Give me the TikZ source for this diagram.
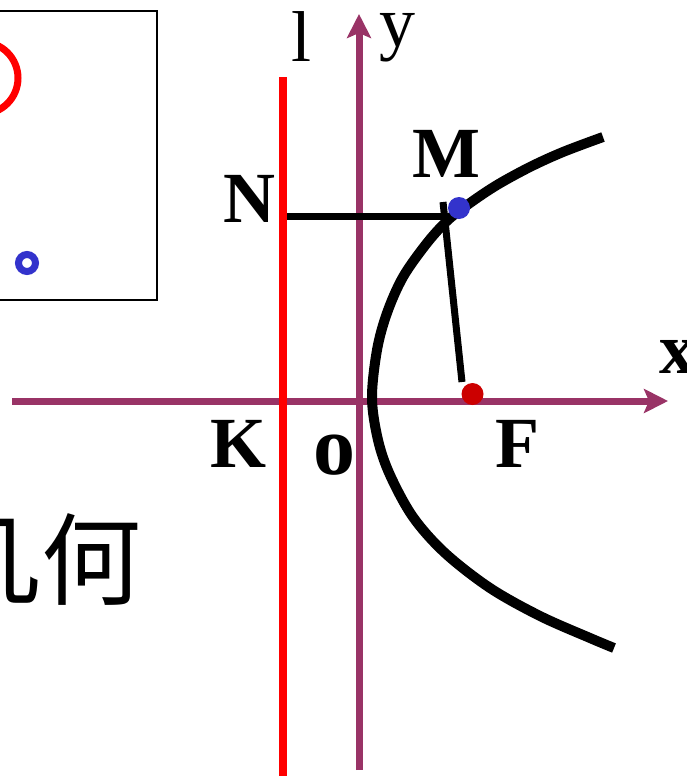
\documentclass[tikz,border=0pt]{standalone}
\usepackage{fontspec}
\setmainfont{Liberation Serif}
\newfontfamily\cjk{Noto Sans CJK SC}
\usetikzlibrary{arrows.meta}

\definecolor{axispurple}{HTML}{993366}
\definecolor{dotblue}{HTML}{3333CC}
\definecolor{dotred}{HTML}{CC0000}

\tikzset{
  axis/.style={axispurple, line width=7pt, -{Stealth[length=24pt, width=24pt, inset=5pt]}},
  lbl/.style={anchor=base, inner sep=0pt, font=\bfseries\fontsize{72}{80}\selectfont},
  dot/.style={circle, inner sep=0pt, minimum size=22pt}
}

\begin{document}
\begin{tikzpicture}[x=1pt, y=-1pt]
    \useasboundingbox (0,0) rectangle (687,776);

    % inset box at the top left
    \draw[line width=1.5pt] (-10,11) rectangle (157,300);
    \draw[red, line width=7pt] (-18,78) circle[radius=36];
    \draw[dotblue, line width=7pt] (27,263) circle[radius=8.5];
    \node[anchor=east, inner sep=0pt, font=\cjk\fontsize{100}{100}\selectfont] (jihe) at (142,560) {几何};

    % axes and directrix
    \coordinate (xs) at (12,401);
    \coordinate (xe) at (668,401);
    \coordinate (ys) at (359,770);
    \coordinate (ye) at (359,14);
    \draw[axis] (xs) -- (xe);
    \draw[axis] (ys) -- (ye);
    \coordinate (ltop) at (283,77);
    \coordinate (lbot) at (283,780);
    \draw[red, line width=7.5pt] (ltop) -- (lbot);

    % the curve
    \draw[line width=10pt] plot[smooth, tension=0.55] coordinates {
        (603,137) (563,152) (530,167) (497,185) (470,203) (448,220)
        (427,243) (403,277) (387,313) (377,350) (372,398)
        (378,440) (390,475) (413,517) (445,553) (490,588) (540,616)
        (590,638) (614,648)};

    % N -- M -- F
    \coordinate (Nfoot) at (287,216);
    \coordinate (Mfoot) at (448,216);
    \coordinate (Mtop) at (443,202);
    \coordinate (Fend) at (462,382);
    \draw[line width=7pt] (Nfoot) -- (Mfoot);
    \draw[line width=7pt] (Mtop) -- (Fend);
    \node[dot, fill=dotblue] (M) at (459,208) {};
    \node[dot, fill=dotred] (F) at (472.5,394) {};

    % labels
    \node[lbl] (Mlbl) at (446.5,177) {M};
    \node[lbl] (Nlbl) at (249,222) {N};
    \node[lbl] (Klbl) at (238.5,467) {K};
    \node[lbl, font=\bfseries\fontsize{84}{90}\selectfont] (Olbl) at (334,474) {o};
    \node[lbl] (Flbl) at (517,467) {F};
    \node[lbl] (xlbl) at (677,373) {x};
    \node[lbl, font=\fontsize{72}{80}\selectfont] (llbl) at (301.5,62) {l};
    \node[lbl, font=\fontsize{72}{80}\selectfont] (ylbl) at (397.5,47) {y};
\end{tikzpicture}
\end{document}
